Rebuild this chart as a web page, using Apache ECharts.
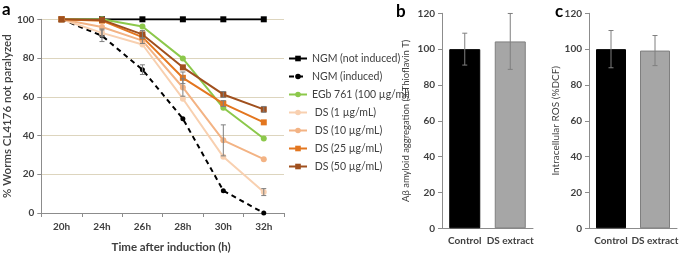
<!DOCTYPE html>
<html><head><meta charset="utf-8">
<script src="https://cdn.jsdelivr.net/npm/echarts@6/dist/echarts.min.js"></script>
<style>html,body{margin:0;padding:0;background:#fff}#c{width:683px;height:258px}</style>
</head><body><div id="c"></div>
<script>
// ---- Panel a data ----
const categories = ['20h','24h','26h','28h','30h','32h'];
const ngmNot  = [100, 100, 100, 100, 100, 100];
const ngmInd  = [100, 91.5, 74, 48.7, 11.5, 0];
const egb     = [100, 100, 96.3, 79.7, 54.3, 38.5];
const ds1     = [100, 93, 87, 59, 29, 10.8];
const ds10    = [100, 96, 89, 64.8, 37.5, 27.8];
const ds25    = [100, 99.3, 90.8, 69.8, 56.5, 46.8];
const ds50    = [100, 99.7, 92.2, 75.2, 61.2, 53.5];
const ngmIndErr = [0, 3, 2.5, 0, 0, 0];
const ds1Err    = [0, 2, 0, 0, 0, 1.8];
const ds10Err   = [0, 0, 1.5, 4.5, 8, 0];
const ds25Err   = [0, 0, 0, 3, 1.5, 0];
const ds50Err   = [0, 0, 2, 0, 1.5, 1.5];
const yTicksA = [0, 20, 40, 60, 80, 100];
// ---- Panel b data ----
const barCats = ['Control', 'DS extract'];
const aggValues = [100, 104.3];
const aggErr = [8.9, 15.6];
// ---- Panel c data ----
const rosValues = [100, 99.2];
const rosErr = [10.4, 8.4];

const FONT = 'Lato, "Liberation Sans", sans-serif';
const AX = '#8c8c8c';
const TXT = '#404040';
const chart = echarts.init(document.getElementById('c'));

function errData(vals, errs) {
  const out = [];
  vals.forEach((v, i) => { if (errs[i] > 0) out.push([i, v - errs[i], v + errs[i]]); });
  return out;
}
function errSeries(data, xi, yi, cap) {
  return {
    type: 'custom', xAxisIndex: xi, yAxisIndex: yi, z: 10, silent: true,
    data: data,
    renderItem: function (params, api) {
      const x = api.value(0);
      const lo = api.coord([x, api.value(1)]);
      const hi = api.coord([x, api.value(2)]);
      const st = { stroke: '#7f7f7f', lineWidth: 1 };
      return { type: 'group', children: [
        { type: 'line', shape: { x1: lo[0], y1: lo[1], x2: hi[0], y2: hi[1] }, style: st },
        { type: 'line', shape: { x1: lo[0]-cap, y1: lo[1], x2: lo[0]+cap, y2: lo[1] }, style: st },
        { type: 'line', shape: { x1: hi[0]-cap, y1: hi[1], x2: hi[0]+cap, y2: hi[1] }, style: st }
      ]};
    }
  };
}
function lineS(name, data, color, symbol, size, dashed) {
  return {
    name: name, type: 'line', xAxisIndex: 0, yAxisIndex: 0, data: data,
    symbol: symbol, symbolSize: size, showSymbol: true,
    lineStyle: { color: color, width: 2, type: dashed ? [5, 4] : 'solid' },
    itemStyle: { color: color }
  };
}
const lineSeries = [
  lineS('NGM (not induced)', ngmNot, '#000000', 'rect', 6, false),
  lineS('NGM (induced)', ngmInd, '#000000', 'circle', 5, true),
  lineS('EGb 761 (100 µg/ml)', egb, '#8cc84b', 'circle', 6, false),
  lineS(' DS (1 µg/mL)', ds1, '#f8d0b0', 'circle', 6, false),
  lineS(' DS (10 µg/mL)', ds10, '#f3b384', 'circle', 6, false),
  lineS(' DS (25 µg/mL)', ds25, '#e3761f', 'rect', 6, false),
  lineS(' DS (50 µg/mL)', ds50, '#a0501e', 'rect', 6, false)
];
const errA = [].concat(
  errData(ngmInd, ngmIndErr), errData(ds1, ds1Err), errData(ds10, ds10Err),
  errData(ds25, ds25Err), errData(ds50, ds50Err)
);

const yLab = { fontFamily: FONT, fontWeight: 'bold', fontSize: 10, color: TXT };
function yAx(grid, max, name, gap, fs) {
  return {
    type: 'value', gridIndex: grid, min: 0, max: max, interval: 20,
    axisLine: { show: true, lineStyle: { color: AX } },
    axisTick: { show: true, length: 4, lineStyle: { color: AX } },
    axisLabel: Object.assign({ margin: 7 }, yLab),
    splitLine: { show: grid === 0, lineStyle: { color: '#ddd5be', width: 1 } },
    name: name, nameLocation: 'middle', nameRotate: 90, nameGap: gap,
    nameTextStyle: { fontFamily: FONT, fontSize: fs, color: TXT, fontWeight: grid === 0 ? 600 : 'normal' }
  };
}

const option = {
  animation: false,
  textStyle: { fontFamily: FONT },
  grid: [
    { left: 39, right: 399, top: 19.3, bottom: 37.3 },
    { left: 442, right: 150, top: 13.3, bottom: 29.7 },
    { left: 589, right: 6, top: 13.3, bottom: 29.7 }
  ],
  legend: {
    orient: 'vertical', left: 283, top: 48, itemWidth: 18, itemHeight: 7, itemGap: 7,
    textStyle: { fontFamily: FONT, fontSize: 10.5, color: TXT },
    data: lineSeries.map(s => s.name)
  },
  xAxis: [
    { type: 'category', gridIndex: 0, data: categories, boundaryGap: true,
      axisLine: { lineStyle: { color: AX } },
      axisTick: { show: true, length: 4, lineStyle: { color: AX } },
      axisLabel: { fontFamily: FONT, fontWeight: 'bold', fontSize: 10, color: TXT, margin: 9 },
      name: 'Time after induction (h)', nameLocation: 'middle', nameGap: 28,
      nameTextStyle: { fontFamily: FONT, fontWeight: 'bold', fontSize: 11.5, color: TXT, padding: [0, 0, 0, 17] } },
    { type: 'category', gridIndex: 1, data: barCats,
      axisLine: { lineStyle: { color: AX } }, axisTick: { show: false },
      axisLabel: { interval: 0, fontFamily: FONT, fontWeight: 'bold', fontSize: 10, color: TXT, margin: 7 } },
    { type: 'category', gridIndex: 2, data: barCats,
      axisLine: { lineStyle: { color: AX } }, axisTick: { show: false },
      axisLabel: { interval: 0, fontFamily: FONT, fontWeight: 'bold', fontSize: 10, color: TXT, margin: 7 } }
  ],
  yAxis: [
    yAx(0, 100, '% Worms CL4176 not paralyzed', 21, 11.5),
    yAx(1, 120, 'Aβ amyloid aggregation (%Thioflavin T)', 31, 9.5),
    yAx(2, 120, 'Intracellular ROS (%DCF)', 22, 10)
  ],
  graphic: [
    { type: 'text', left: 2, top: 1, style: { text: 'a', fontFamily: FONT, fontWeight: 'bold', fontSize: 17, fill: '#000' } },
    { type: 'text', left: 396, top: 3, style: { text: 'b', fontFamily: FONT, fontWeight: 'bold', fontSize: 17, fill: '#000' } },
    { type: 'text', left: 555, top: 3, style: { text: 'c', fontFamily: FONT, fontWeight: 'bold', fontSize: 17, fill: '#000' } }
  ],
  series: lineSeries.concat([
    errSeries(errA, 0, 0, 2.5),
    { type: 'bar', xAxisIndex: 1, yAxisIndex: 1, barWidth: 31,
      data: aggValues.map((v, i) => ({ value: v, itemStyle: { color: i === 0 ? '#000' : '#a6a6a6', borderColor: i === 0 ? '#000' : '#7f7f7f', borderWidth: 1 } })) },
    errSeries(errData(aggValues, aggErr), 1, 1, 2.5),
    { type: 'bar', xAxisIndex: 2, yAxisIndex: 2, barWidth: 30,
      data: rosValues.map((v, i) => ({ value: v, itemStyle: { color: i === 0 ? '#000' : '#a6a6a6', borderColor: i === 0 ? '#000' : '#7f7f7f', borderWidth: 1 } })) },
    errSeries(errData(rosValues, rosErr), 2, 2, 2.5)
  ])
};
chart.setOption(option);
</script></body></html>
